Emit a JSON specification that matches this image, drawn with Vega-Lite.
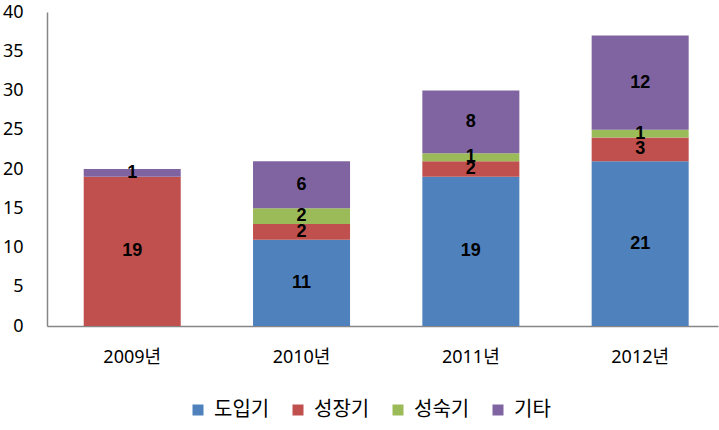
{
  "$schema": "https://vega.github.io/schema/vega-lite/v6.json",
  "width": 671,
  "height": 314,
  "autosize": {"type": "none"},
  "padding": {"left": 47, "top": 12, "right": 1, "bottom": 104},
  "background": "white",
  "config": {
    "view": {"stroke": null},
    "font": "Noto Sans, Noto Sans CJK KR"
  },
  "data": {
    "values": [
      {"year": "2009년", "stage": "성장기", "k": 2, "value": 19},
      {"year": "2009년", "stage": "기타", "k": 4, "value": 1},
      {"year": "2010년", "stage": "도입기", "k": 1, "value": 11},
      {"year": "2010년", "stage": "성장기", "k": 2, "value": 2},
      {"year": "2010년", "stage": "성숙기", "k": 3, "value": 2},
      {"year": "2010년", "stage": "기타", "k": 4, "value": 6},
      {"year": "2011년", "stage": "도입기", "k": 1, "value": 19},
      {"year": "2011년", "stage": "성장기", "k": 2, "value": 2},
      {"year": "2011년", "stage": "성숙기", "k": 3, "value": 1},
      {"year": "2011년", "stage": "기타", "k": 4, "value": 8},
      {"year": "2012년", "stage": "도입기", "k": 1, "value": 21},
      {"year": "2012년", "stage": "성장기", "k": 2, "value": 3},
      {"year": "2012년", "stage": "성숙기", "k": 3, "value": 1},
      {"year": "2012년", "stage": "기타", "k": 4, "value": 12}
    ]
  },
  "transform": [
    {"stack": "value", "groupby": ["year"], "sort": [{"field": "k", "order": "ascending"}], "as": ["v0", "v1"]},
    {"calculate": "(datum.v0 + datum.v1) / 2", "as": "mid"}
  ],
  "encoding": {
    "x": {
      "field": "year", "type": "nominal",
      "scale": {"paddingInner": 0.427, "paddingOuter": 0.195, "align": 0.556},
      "axis": {
        "title": null, "labelAngle": 0, "labelFontSize": 18, "labelColor": "black",
        "labelPadding": 22, "ticks": false, "domainColor": "#868686", "domainWidth": 1.5
      }
    }
  },
  "layer": [
    {
      "mark": {"type": "bar"},
      "encoding": {
        "y": {
          "field": "v0", "type": "quantitative",
          "scale": {"domain": [0, 40]},
          "axis": {
            "title": null, "values": [0,5,10,15,20,25,30,35,40], "grid": false, "ticks": false,
            "labelOverlap": false, "labelFontSize": 18, "labelColor": "black", "labelPadding": 24,
            "domainColor": "#868686", "domainWidth": 1.5
          }
        },
        "y2": {"field": "v1"},
        "color": {
          "field": "stage", "type": "nominal",
          "scale": {
            "domain": ["도입기", "성장기", "성숙기", "기타"],
            "range": ["#4F81BD", "#C0504D", "#9BBB59", "#8064A2"]
          },
          "legend": {
            "title": null, "orient": "none", "direction": "horizontal",
            "legendX": 141, "legendY": 388,
            "symbolType": "square", "symbolSize": 121, "symbolStrokeWidth": 0,
            "labelFontSize": 20, "labelColor": "black", "columnPadding": 18, "labelOffset": 6
          }
        }
      }
    },
    {
      "mark": {"type": "text", "fontWeight": "bold", "fontSize": 18, "color": "black", "font": "Liberation Sans"},
      "encoding": {
        "y": {
          "field": "mid", "type": "quantitative",
          "scale": {"domain": [0, 40]},
          "axis": {
            "title": null, "values": [0,5,10,15,20,25,30,35,40], "grid": false, "ticks": false,
            "labelOverlap": false, "labelFontSize": 18, "labelColor": "black", "labelPadding": 24,
            "domainColor": "#868686", "domainWidth": 1.5
          }
        },
        "text": {"field": "value", "type": "quantitative"}
      }
    }
  ]
}
